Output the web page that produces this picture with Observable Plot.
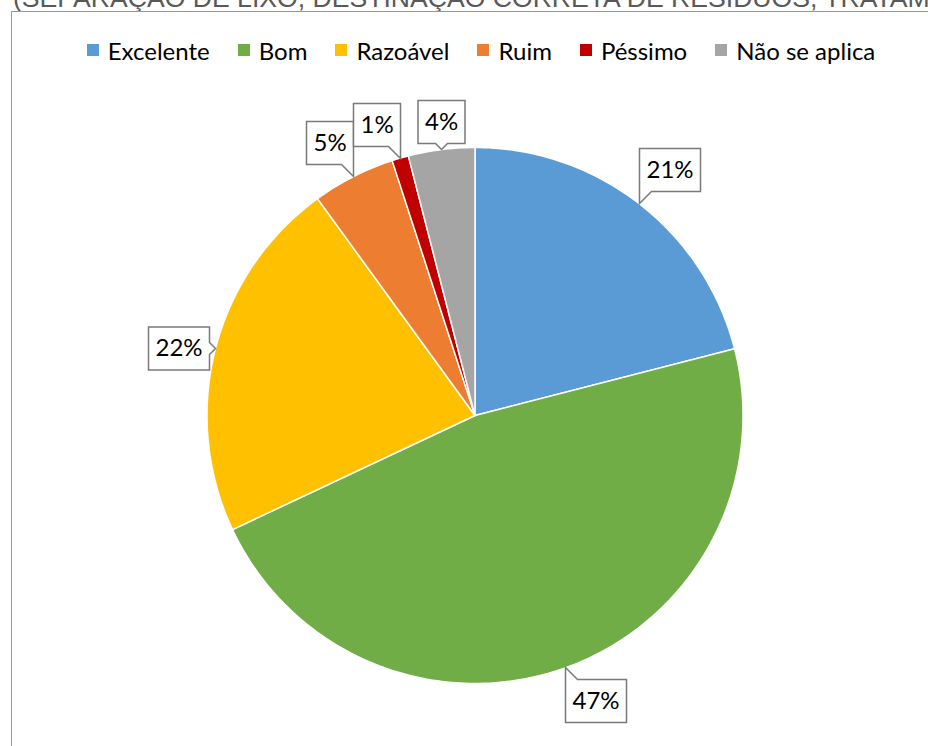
<!DOCTYPE html>
<html>
<head>
<meta charset="utf-8">
<script src="https://cdn.jsdelivr.net/npm/d3@7"></script>
<script src="https://cdn.jsdelivr.net/npm/@observablehq/plot@0.6"></script>
<style>
html, body { margin: 0; padding: 0; background: #fff; overflow: hidden; }
#wrap { position: relative; width: 928px; height: 746px; overflow: hidden; background: #fff; }
#title { position: absolute; left: 13px; top: -15px; font: 26.6px "Liberation Sans", Arial, sans-serif; line-height: 26px; color: #595959; white-space: nowrap; }
#frame { position: absolute; left: 11px; top: 11px; width: 1000px; height: 1000px; border: 1px solid #9a9a9a; box-sizing: border-box; }
#chart { position: absolute; left: 0; top: 0; }
#legend { position: absolute; left: 0; top: 35px; width: 962px; }
#legend .lg-swatches { font-family: Lato, "Noto Sans", sans-serif; font-size: 24px; color: #000; justify-content: center; margin: 0; min-height: 30px; }
#legend .lg-swatch { margin: 0 14px !important; }
#legend .lg-swatch > svg { margin-right: 9px !important; }
</style>
</head>
<body>
<div id="wrap">
  <div id="title">(SEPARAÇÃO DE LIXO, DESTINAÇÃO CORRETA DE RESÍDUOS, TRATAMENTO</div>
  <div id="frame"></div>
  <div id="chart"></div>
  <div id="legend"></div>
</div>
<script>
const categories = ["Excelente", "Bom", "Razoável", "Ruim", "Péssimo", "Não se aplica"];
const values = [21, 47, 22, 5, 1, 4];
const colors = ["#5B9BD5", "#70AD47", "#FFC000", "#ED7D31", "#C00000", "#A5A5A5"];

// geometry derived from the data
const arcs = d3.pie().sort(null).value(d => d)(values);
const slicePts = [];
arcs.forEach((a, i) => {
  slicePts.push({cat: categories[i], x: 0, y: 0});
  const n = Math.max(2, Math.ceil((a.endAngle - a.startAngle) / (Math.PI / 180)) + 1);
  for (let k = 0; k < n; k++) {
    const t = a.startAngle + (a.endAngle - a.startAngle) * k / (n - 1);
    slicePts.push({cat: categories[i], x: Math.sin(t), y: Math.cos(t)});
  }
});

function anchorFor(deg) {
  if (deg < 10 || deg >= 350) return "bottom";
  if (deg < 80) return "bottom-left";
  if (deg < 100) return "left";
  if (deg < 170) return "top-left";
  if (deg < 190) return "top";
  if (deg < 260) return "top-right";
  if (deg < 290) return "right";
  return "bottom-right";
}

const labelData = arcs.map((a, i) => {
  const mid = (a.startAngle + a.endAngle) / 2;
  return {label: `${values[i]}%`, x: Math.sin(mid), y: Math.cos(mid), anchor: anchorFor(mid * 180 / Math.PI)};
});
const anchors = [...new Set(labelData.map(d => d.anchor))];

const cx = 474.5, cy = 415, r = 268;

const chart = Plot.plot({
  width: 928,
  height: 746,
  margin: 0,
  style: {background: "transparent", overflow: "visible"},
  x: {domain: [-1, 1], range: [cx - r, cx + r], axis: null},
  y: {domain: [-1, 1], range: [cy + r, cy - r], axis: null},
  color: {domain: categories, range: colors},
  marks: [
    Plot.line(slicePts, {x: "x", y: "y", z: "cat", fill: "cat", stroke: "white", strokeWidth: 1.5, strokeLinejoin: "round", curve: "linear-closed"}),
    ...anchors.map(an => Plot.tip(labelData.filter(d => d.anchor === an), {
      x: "x", y: "y", title: "label", anchor: an,
      fill: "white", stroke: "#7a7a7a", strokeWidth: 1.5, pathFilter: "none",
      fontFamily: "Lato", fontSize: 24, textPadding: 7, pointerSize: 12
    }))
  ]
});
document.getElementById("chart").appendChild(chart);

const legend = chart.legend("color", {swatchSize: 12, className: "lg"});
document.getElementById("legend").appendChild(legend);
</script>
</body>
</html>
